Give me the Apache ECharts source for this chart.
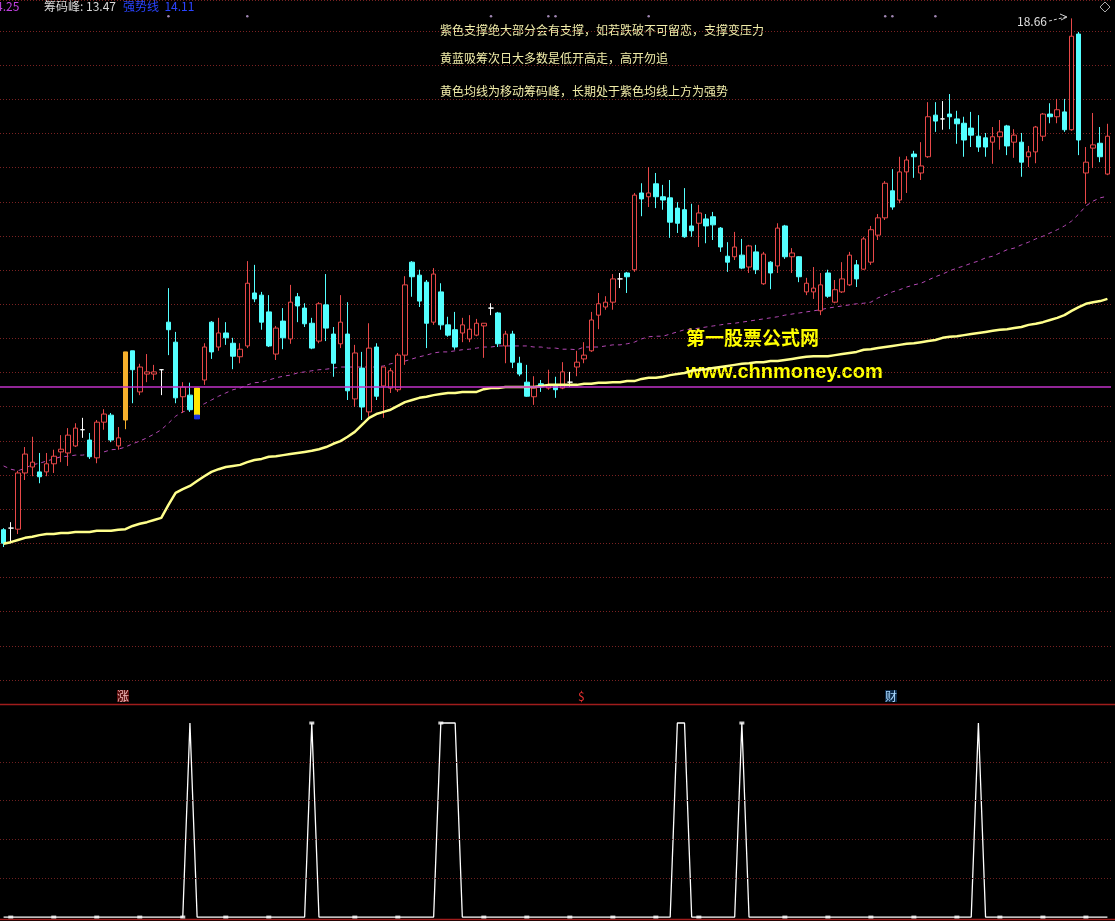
<!DOCTYPE html>
<html><head><meta charset="utf-8">
<script src="https://cdn.jsdelivr.net/npm/echarts@6.0.0/dist/echarts.min.js"></script>
<style>html,body{margin:0;padding:0;background:#000;overflow:hidden}#c{width:1115px;height:921px}</style>
</head><body><div id="c"></div>
<script>
const opens = [9.20,9.23,9.21,10.25,10.36,10.27,10.27,10.42,10.64,10.62,
10.75,11.05,10.86,10.53,11.19,11.32,10.75,11.23,12.51,11.75,
12.08,12.08,12.16,13.04,12.67,11.66,11.69,11.32,11.97,13.04,
12.58,12.84,12.65,12.40,12.60,13.58,13.54,13.23,12.45,13.06,
12.73,13.51,13.30,13.02,12.69,13.36,12.82,12.64,12.82,11.62,
12.19,11.38,12.58,11.86,11.82,11.79,12.43,14.15,13.91,13.78,
13.04,13.60,12.99,12.90,12.84,12.73,12.80,12.97,13.30,13.21,
12.60,12.82,12.28,11.93,11.66,11.90,11.82,11.88,11.82,11.93,
12.21,12.36,12.51,13.17,13.32,13.41,13.84,13.95,14.01,15.43,
15.36,15.60,15.36,15.34,15.15,15.12,14.82,14.87,14.95,14.99,
14.78,14.26,14.25,14.28,14.06,14.34,13.75,14.15,14.08,14.82,
14.25,14.25,13.60,13.60,13.25,13.95,13.41,13.60,13.73,14.10,
14.02,14.15,14.65,14.97,15.47,15.30,15.82,16.15,15.80,16.10,
16.87,16.80,16.89,16.80,16.72,16.63,16.48,16.45,16.37,16.47,
16.67,16.37,16.37,16.10,16.19,16.48,16.89,16.84,16.93,16.60,
18.37,15.80,16.26,16.35,15.78];
const closes = [8.95,9.23,10.25,10.60,10.45,10.18,10.42,10.56,10.69,10.95,
11.08,11.05,10.55,11.19,11.34,10.86,10.90,12.49,12.16,12.21,
12.12,12.12,12.16,12.90,11.64,11.84,11.42,11.82,12.58,12.49,
12.84,12.75,12.41,12.54,13.76,13.47,13.04,12.60,12.93,12.75,
13.41,13.34,13.01,12.56,13.38,12.93,12.28,13.04,11.77,12.47,
11.47,12.56,11.67,12.21,12.14,12.43,13.73,13.88,13.43,13.02,
13.93,12.99,12.80,12.58,12.99,12.91,13.02,13.02,13.30,12.64,
12.82,12.30,12.08,11.67,11.82,11.84,11.88,11.79,12.12,11.93,
12.30,12.43,13.08,13.38,13.41,13.84,13.84,13.88,15.39,15.32,
15.43,15.36,15.30,14.89,14.87,14.62,14.73,15.06,14.82,14.84,
14.43,14.15,14.43,14.04,14.45,14.01,14.30,13.95,14.78,14.25,
14.32,13.88,13.76,13.67,13.73,13.52,13.64,13.84,14.28,13.84,
14.58,14.75,14.97,15.61,15.17,15.82,16.04,16.10,15.93,16.84,
16.76,16.80,16.84,16.71,16.41,16.50,16.28,16.28,16.47,16.56,
16.30,16.50,16.00,16.19,16.65,16.89,16.84,16.97,16.60,18.33,
16.41,16.00,16.32,16.10,16.48];
const lows = [8.88,8.95,9.12,10.12,10.19,10.06,10.19,10.25,10.45,10.38,
10.73,10.90,10.51,10.43,11.05,10.82,10.68,11.06,11.54,11.69,
11.93,11.97,11.69,12.43,11.54,11.36,11.38,11.25,11.88,12.36,
12.51,12.62,12.17,12.28,12.56,13.41,12.90,12.58,12.34,12.54,
12.64,13.04,12.95,12.54,12.65,12.69,12.03,12.56,11.60,11.47,
11.23,11.29,11.60,11.27,11.73,11.75,12.25,13.51,13.32,12.56,
12.99,12.90,12.77,12.53,12.67,12.67,12.78,12.38,13.17,12.58,
12.28,12.19,12.04,11.66,11.51,11.75,11.79,11.64,11.80,11.84,
12.04,12.28,12.49,12.91,13.27,13.27,13.67,13.58,13.97,15.00,
15.17,15.15,15.12,14.60,14.69,14.60,14.62,14.43,14.50,14.56,
14.34,13.97,14.19,14.02,13.95,13.93,13.73,13.65,13.95,14.21,
13.95,13.78,13.54,13.47,13.17,13.49,13.39,13.58,13.71,13.69,
14.01,14.10,14.56,14.93,15.12,15.24,15.43,15.71,15.67,16.08,
16.56,16.60,16.61,16.34,16.10,16.28,16.19,16.10,15.97,16.23,
16.13,16.08,15.73,15.91,15.98,16.39,16.72,16.72,16.56,16.58,
16.13,15.23,15.89,16.00,15.76];
const highs = [9.23,9.34,10.29,10.73,10.92,10.62,10.62,10.68,10.95,11.08,
11.17,11.27,10.99,11.23,11.43,11.36,11.10,12.49,12.51,12.27,
12.45,12.25,12.17,13.67,12.86,11.93,11.92,11.82,12.65,13.06,
13.12,13.04,12.75,12.65,14.17,14.10,13.60,13.54,12.97,13.30,
13.73,13.58,13.39,13.12,13.41,13.93,12.95,13.54,13.41,12.62,
12.49,13.02,12.65,12.21,12.19,12.47,13.89,14.17,14.01,13.82,
14.04,13.76,13.14,13.23,13.12,13.17,13.10,13.02,13.39,13.23,
12.88,12.88,12.40,12.25,12.04,11.97,12.16,12.03,12.30,12.12,
12.51,12.67,13.23,13.58,13.52,13.93,13.95,13.97,15.43,15.61,
15.91,15.80,15.58,15.67,15.26,15.52,15.23,15.21,15.04,15.08,
14.80,14.52,14.71,14.58,14.47,14.47,14.34,14.17,14.87,14.84,
14.41,14.26,13.86,14.06,13.95,14.01,13.82,14.15,14.34,14.19,
14.62,14.82,15.04,15.65,15.87,16.10,16.11,16.21,16.37,17.11,
17.11,17.13,17.26,16.95,16.84,16.93,16.87,16.54,16.65,16.78,
16.69,16.61,16.54,16.30,16.67,16.91,17.09,17.17,17.17,18.66,
18.41,16.28,16.91,16.65,16.71];
const chipPeak = [8.94,8.97,9.01,9.05,9.07,9.10,9.12,9.12,9.14,9.14,
9.16,9.16,9.16,9.18,9.18,9.18,9.20,9.21,9.27,9.31,
9.34,9.38,9.42,9.66,9.88,9.95,10.01,10.10,10.19,10.27,
10.32,10.36,10.38,10.40,10.45,10.49,10.51,10.55,10.56,10.58,
10.60,10.62,10.64,10.66,10.69,10.73,10.79,10.84,10.92,11.01,
11.14,11.27,11.34,11.38,11.42,11.49,11.56,11.60,11.64,11.66,
11.69,11.71,11.73,11.73,11.75,11.75,11.75,11.80,11.82,11.82,
11.84,11.84,11.84,11.84,11.84,11.86,11.88,11.88,11.88,11.88,
11.88,11.90,11.90,11.92,11.92,11.93,11.93,11.95,11.95,11.99,
12.01,12.01,12.03,12.06,12.08,12.10,12.14,12.16,12.17,12.19,
12.21,12.23,12.25,12.27,12.28,12.30,12.30,12.32,12.32,12.34,
12.36,12.38,12.40,12.41,12.41,12.41,12.43,12.45,12.47,12.49,
12.53,12.54,12.56,12.58,12.60,12.62,12.64,12.65,12.67,12.69,
12.71,12.75,12.77,12.78,12.80,12.82,12.84,12.86,12.88,12.90,
12.91,12.93,12.95,12.99,13.01,13.04,13.08,13.12,13.17,13.25,
13.32,13.38,13.41,13.43,13.47];
const purpleMA = [10.38,10.32,10.29,10.34,10.40,10.43,10.47,10.51,10.55,10.56,
10.58,10.58,10.60,10.62,10.64,10.68,10.69,10.73,10.79,10.84,
10.90,10.97,11.05,11.17,11.30,11.38,11.42,11.47,11.53,11.60,
11.67,11.73,11.79,11.82,11.88,11.92,11.93,11.97,12.01,12.04,
12.06,12.10,12.12,12.14,12.16,12.17,12.19,12.21,12.21,12.21,
12.21,12.21,12.21,12.23,12.27,12.30,12.32,12.36,12.40,12.43,
12.47,12.49,12.49,12.51,12.53,12.54,12.56,12.58,12.58,12.60,
12.60,12.60,12.60,12.60,12.58,12.58,12.56,12.56,12.54,12.54,
12.53,12.58,12.58,12.58,12.60,12.62,12.62,12.64,12.67,12.73,
12.77,12.78,12.78,12.82,12.86,12.90,12.91,12.93,12.95,12.97,
12.99,13.01,13.02,13.04,13.06,13.08,13.10,13.12,13.14,13.17,
13.19,13.21,13.23,13.25,13.27,13.30,13.32,13.34,13.36,13.38,
13.39,13.41,13.49,13.54,13.60,13.64,13.69,13.73,13.76,13.82,
13.88,13.93,13.99,14.04,14.08,14.13,14.17,14.23,14.26,14.32,
14.38,14.41,14.47,14.52,14.58,14.63,14.69,14.75,14.82,14.91,
15.04,15.19,15.28,15.34,15.37];
const supportLevel = 11.84;
const orangeBars = [17];
const yellowBars = [27];
const blueBar = {index: 27, top: 11.32, bottom: 11.25};
const topDotBars = [23, 34, 68, 76, 77, 90, 123, 124, 130];
const topDotLevel = 18.70;
const spikeBars = [26, 43, 61, 62, 63, 94, 95, 103, 136];
const spikeLevel = 5;
const markerBars = [1,7,13,19,25,31,37,43,49,55,61,67,73,79,85,91,97,103,109,115,121,127,133,139,145,151];
const maxLabel = '18.66';

const categories = opens.map((_, i) => String(i + 1));
const spikes = categories.map((_, i) => spikeBars.includes(i) ? spikeLevel : 0);

const UP = '#e84848', DOWN = '#54ffff';
const candleData = opens.map((o, i) => {
  const item = {value: [o, closes[i], lows[i], highs[i]]};
  if (o === closes[i]) item.itemStyle = {color: '#fff', color0: '#fff', borderColor: '#fff', borderColor0: '#fff'};
  if (orangeBars.includes(i)) item.itemStyle = {color: '#f7b02c', color0: '#f7b02c', borderColor: '#f7b02c', borderColor0: '#f7b02c'};
  if (yellowBars.includes(i)) item.itemStyle = {color: '#ffe600', color0: '#ffe600', borderColor: '#ffe600', borderColor0: '#ffe600'};
  return item;
});
const blueData = categories.map((_, i) => i === blueBar.index ? [blueBar.top, blueBar.bottom, blueBar.bottom, blueBar.top] : '-');

const chart = echarts.init(document.getElementById('c'));
const F = '"Noto Sans CJK SC", sans-serif';
chart.setOption({
  backgroundColor: '#000',
  animation: false,
  grid: [
    {left: -2, width: 1113, top: 0, height: 680},
    {left: -2, width: 1113, top: 704, height: 215}
  ],
  xAxis: [
    {type: 'category', gridIndex: 0, data: categories, show: false},
    {type: 'category', gridIndex: 1, data: categories, show: false}
  ],
  yAxis: [
    {type: 'value', gridIndex: 0, min: 6.42, max: 19.0, show: false},
    {type: 'value', gridIndex: 0, min: 0, max: 19.906, interval: 1, position: 'right',
     axisLabel: {show: false}, axisLine: {show: false}, axisTick: {show: false},
     splitLine: {show: true, lineStyle: {color: '#7a2222', type: [1, 2], width: 1}}},
    {type: 'value', gridIndex: 1, min: -0.05, max: 5.49, show: false}
  ],
  series: [
    {type: 'line', xAxisIndex: 0, yAxisIndex: 0, data: purpleMA, showSymbol: false, z: 2,
     lineStyle: {color: '#b448b4', width: 1, type: [4, 4]},
     markLine: {silent: true, symbol: ['none', 'none'], label: {show: false},
       lineStyle: {color: '#c032c8', type: 'solid', width: 1.5}, data: [{yAxis: supportLevel}]}},
    {type: 'candlestick', xAxisIndex: 0, yAxisIndex: 0, data: candleData, barWidth: 5, z: 3,
     itemStyle: {color: '#000', color0: DOWN, borderColor: UP, borderColor0: DOWN, borderWidth: 1}},
    {type: 'candlestick', xAxisIndex: 0, yAxisIndex: 0, data: blueData, barWidth: 5, z: 3,
     itemStyle: {color: '#1830e0', color0: '#1830e0', borderColor: '#1830e0', borderColor0: '#1830e0'}},
    {type: 'line', xAxisIndex: 0, yAxisIndex: 0, data: chipPeak, showSymbol: false, z: 4,
     lineStyle: {color: '#ffff8c', width: 2.5}},
    {type: 'scatter', xAxisIndex: 0, yAxisIndex: 0, symbol: 'circle', symbolSize: 2.5, z: 4,
     itemStyle: {color: '#c8a8e0'}, data: topDotBars.map(i => [i, topDotLevel])},
    {type: 'line', xAxisIndex: 1, yAxisIndex: 2, data: spikes, showSymbol: false, z: 4,
     lineStyle: {color: '#ffffff', width: 1.3},
     markLine: {silent: true, symbol: ['none', 'none'], label: {show: false},
       lineStyle: {color: '#6e2020', type: [1, 2], width: 1},
       data: [{yAxis: 1}, {yAxis: 2}, {yAxis: 3}, {yAxis: 4}]}},
    {type: 'scatter', xAxisIndex: 1, yAxisIndex: 2, symbol: 'rect', symbolSize: [5, 3], z: 5,
     itemStyle: {color: '#ffffff'}, data: markerBars.map(i => [i, spikes[i]])}
  ],
  graphic: [
    {type: 'line', shape: {x1: 0, y1: 704.5, x2: 1115, y2: 704.5}, style: {stroke: '#a01c1c', lineWidth: 1.5}},
    {type: 'line', shape: {x1: 0, y1: 919.5, x2: 1115, y2: 919.5}, style: {stroke: '#a01c1c', lineWidth: 1.5}},
    {type: 'text', left: -4, top: 0, style: {text: '4.25', fill: '#c040e0', font: '12px ' + F}},
    {type: 'text', left: 44, top: 0, style: {text: '筹码峰: 13.47', fill: '#d8d8d8', font: '12px ' + F}},
    {type: 'text', left: 123, top: 0, style: {text: '强势线  14.11', fill: '#2a44ff', font: '12px ' + F}},
    {type: 'text', left: 440, top: 24, style: {text: '紫色支撑绝大部分会有支撑，如若跌破不可留恋，支撑变压力', fill: '#f2eeaa', font: '12px ' + F}},
    {type: 'text', left: 440, top: 52, style: {text: '黄蓝吸筹次日大多数是低开高走，高开勿追', fill: '#f2eeaa', font: '12px ' + F}},
    {type: 'text', left: 440, top: 85, style: {text: '黄色均线为移动筹码峰，长期处于紫色均线上方为强势', fill: '#f2eeaa', font: '12px ' + F}},
    {type: 'text', left: 686, top: 328, style: {text: '第一股票公式网', fill: '#ffff00', font: 'bold 19px ' + F}},
    {type: 'text', left: 686, top: 362, style: {text: 'www.chnmoney.com', fill: '#ffff00', font: 'bold 20px "Liberation Sans", Arial, sans-serif'}},
    {type: 'text', left: 1017, top: 15, style: {text: maxLabel, fill: '#e0e0e0', font: '12px ' + F}},
    {type: 'polyline', shape: {points: [[1049, 21], [1066, 17]]}, style: {stroke: '#d0d0d0', lineWidth: 1, lineDash: [3, 2]}},
    {type: 'polyline', shape: {points: [[1060, 14], [1067, 17], [1061, 20]]}, style: {stroke: '#d0d0d0', lineWidth: 1, fill: null}},
    {type: 'polygon', shape: {points: [[1105, 2], [1110, 7], [1105, 12], [1100, 7]]}, style: {stroke: '#a8a8a8', fill: null, lineWidth: 1}},
    {type: 'text', left: 117, top: 690, style: {text: '涨', fill: '#f0b8b8', font: '12px ' + F, backgroundColor: '#5a0c0c'}},
    {type: 'text', left: 578, top: 690, style: {text: '$', fill: '#e83030', font: '12px ' + F}},
    {type: 'text', left: 885, top: 690, style: {text: '财', fill: '#a8d8ff', font: '12px ' + F, backgroundColor: '#0c2a4a'}}
  ]
});
</script></body></html>
